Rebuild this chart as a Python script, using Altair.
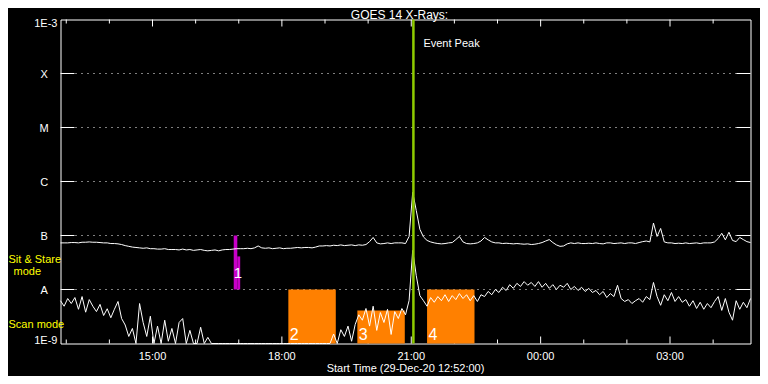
import altair as alt
import pandas as pd

FONT = "Liberation Sans"

# GOES 14 long channel (1-8 A), 5-minute samples from 12:52 UT
long_flux = [
    7.3e-8, 7.3e-8, 7.3e-8, 7.4e-8, 7.4e-8, 7.3e-8, 7.5e-8, 7.5e-8, 7.6e-8, 7.5e-8,
    7.5e-8, 7.4e-8, 7.3e-8, 7.3e-8, 7.1e-8, 7.1e-8, 7.0e-8, 6.8e-8, 6.5e-8, 6.3e-8,
    6.1e-8, 6.0e-8, 5.9e-8, 5.8e-8, 5.9e-8, 5.7e-8, 5.7e-8, 5.6e-8, 5.6e-8, 5.7e-8,
    5.5e-8, 5.5e-8, 5.5e-8, 5.4e-8, 5.6e-8, 5.4e-8, 5.5e-8, 5.3e-8, 5.4e-8, 5.5e-8,
    5.3e-8, 5.2e-8, 5.3e-8, 5.4e-8, 5.2e-8, 5.4e-8, 5.5e-8, 5.5e-8, 5.6e-8, 5.7e-8,
    5.7e-8, 5.7e-8, 5.8e-8, 5.7e-8, 5.9e-8, 6.4e-8, 5.9e-8, 5.8e-8, 5.9e-8, 5.7e-8,
    5.8e-8, 5.9e-8, 5.7e-8, 5.8e-8, 5.8e-8, 5.9e-8, 6.0e-8, 5.9e-8, 6.0e-8, 6.0e-8,
    5.9e-8, 6.1e-8, 6.4e-8, 6.4e-8, 6.5e-8, 6.4e-8, 6.6e-8, 6.5e-8, 6.7e-8, 6.5e-8,
    6.6e-8, 6.7e-8, 6.5e-8, 6.7e-8, 6.6e-8, 6.8e-8, 7.7e-8, 9.2e-8, 7.3e-8, 7.0e-8,
    7.1e-8, 7.3e-8, 7.1e-8, 7.3e-8, 7.3e-8, 7.3e-8, 7.1e-8, 9.6e-8, 6.3e-7, 2.9e-7,
    1.3e-7, 9.4e-8, 8.1e-8, 7.6e-8, 7.3e-8, 7.1e-8, 7.0e-8, 7.1e-8, 7.3e-8, 7.4e-8,
    8.4e-8, 9.6e-8, 7.6e-8, 7.1e-8, 7.0e-8, 7.1e-8, 7.3e-8, 7.9e-8, 9.2e-8, 8.3e-8,
    7.6e-8, 7.3e-8, 7.3e-8, 7.1e-8, 7.2e-8, 7.1e-8, 7.0e-8, 7.1e-8, 7.0e-8, 6.9e-8,
    7.0e-8, 6.8e-8, 6.9e-8, 7.1e-8, 7.4e-8, 7.9e-8, 8.4e-8, 7.4e-8, 6.7e-8, 6.3e-8,
    6.4e-8, 7.0e-8, 7.3e-8, 7.1e-8, 7.3e-8, 7.1e-8, 7.1e-8, 7.2e-8, 7.1e-8, 7.3e-8,
    7.1e-8, 7.0e-8, 7.3e-8, 7.3e-8, 7.1e-8, 7.2e-8, 7.3e-8, 7.1e-8, 7.3e-8, 7.3e-8,
    7.1e-8, 7.4e-8, 7.7e-8, 7.9e-8, 7.6e-8, 1.7e-7, 9.6e-8, 1.35e-7, 7.6e-8, 7.3e-8,
    7.3e-8, 7.1e-8, 7.2e-8, 7.1e-8, 7.3e-8, 7.1e-8, 7.2e-8, 7.3e-8, 7.1e-8, 7.3e-8,
    7.3e-8, 7.3e-8, 7.6e-8, 8.8e-8, 1.1e-7, 8.3e-8, 1.15e-7, 8.1e-8, 7.7e-8, 9.2e-8,
    8.4e-8, 7.7e-8, 7.4e-8,
]

# GOES 14 short channel (0.5-4 A), same samples
short_flux = [
    6.2e-9, 4.9e-9, 6.8e-9, 5.5e-9, 7.1e-9, 4.3e-9, 7.4e-9, 3.8e-9, 6.5e-9, 4.9e-9,
    3.9e-9, 5.3e-9, 3.3e-9, 4.4e-9, 3.0e-9, 4.3e-9, 6.0e-9, 2.9e-9, 2.2e-9, 1.35e-9,
    1.9e-9, 1e-9, 5.5e-9, 2.45e-9, 1.35e-9, 3.2e-9, 1e-9, 2.1e-9, 1e-9, 2.7e-9,
    1.1e-9, 1.9e-9, 1e-9, 2.45e-9, 2.9e-9, 1e-9, 1.75e-9, 1e-9, 1e-9, 2.0e-9,
    1e-9, 1.3e-9, 1e-9, 1e-9, 1e-9, 1e-9, 1e-9, 1e-9, 1e-9, 1e-9,
    1e-9, 1e-9, 1e-9, 1e-9, 1e-9, 1e-9, 1e-9, 1e-9, 1e-9, 1e-9,
    1e-9, 1e-9, 1e-9, 1e-9, 1e-9, 1e-9, 1e-9, 1e-9, 1e-9, 1e-9,
    1e-9, 1e-9, 1e-9, 1e-9, 1e-9, 1e-9, 1.5e-9, 1e-9, 1.8e-9, 1.35e-9,
    2.1e-9, 1.1e-9, 2.25e-9, 3.4e-9, 2.7e-9, 4.45e-9, 2.1e-9, 4.9e-9, 1.75e-9, 3.75e-9,
    2.45e-9, 4.3e-9, 1.47e-9, 3.9e-9, 2.9e-9, 4.45e-9, 3.4e-9, 6.25e-9, 5.3e-8, 1.8e-8,
    7.7e-9, 6.2e-9, 4.9e-9, 7.1e-9, 5.8e-9, 7.4e-9, 6.2e-9, 8.0e-9, 6.0e-9, 7.7e-9,
    6.5e-9, 8.4e-9, 6.8e-9, 8.0e-9, 6.2e-9, 7.7e-9, 6.0e-9, 8.0e-9, 7.4e-9, 9.2e-9,
    8.0e-9, 1.0e-8, 8.8e-9, 1.1e-8, 9.6e-9, 1.23e-8, 1.05e-8, 1.3e-8, 1.14e-8, 1.4e-8,
    1.2e-8, 1.35e-8, 1.14e-8, 1.4e-8, 1.1e-8, 1.3e-8, 1.05e-8, 1.23e-8, 1.0e-8, 1.2e-8,
    1.1e-8, 1.3e-8, 1.0e-8, 1.14e-8, 9.6e-9, 1.1e-8, 9.2e-9, 1.05e-8, 8.8e-9, 9.6e-9,
    8.0e-9, 9.2e-9, 7.1e-9, 8.4e-9, 7.4e-9, 1.2e-8, 6.8e-9, 6.0e-9, 6.5e-9, 5.5e-9,
    6.2e-9, 6.8e-9, 5.8e-9, 7.4e-9, 6.5e-9, 1.35e-8, 7.4e-9, 5.1e-9, 8.0e-9, 6.2e-9,
    8.8e-9, 6.0e-9, 7.4e-9, 5.8e-9, 6.5e-9, 4.9e-9, 6.2e-9, 4.45e-9, 5.8e-9, 4.3e-9,
    5.5e-9, 4.6e-9, 6.0e-9, 7.4e-9, 4.1e-9, 6.8e-9, 3.8e-9, 2.7e-9, 6.2e-9, 4.3e-9,
    5.8e-9, 4.6e-9, 6.8e-9,
]

# Flare-class levels and labels
level_values = [1e-8, 1e-7, 1e-6, 1e-5, 1e-4]
level_labels = ["A", "B", "C", "M", "X"]
end_values = [1e-9, 1e-3]
end_labels = ["1E-9", "1E-3"]

# Hour ticks
major_ticks = ["2020-12-29T15:00:00Z", "2020-12-29T18:00:00Z", "2020-12-29T21:00:00Z",
               "2020-12-30T00:00:00Z", "2020-12-30T03:00:00Z"]
major_labels = ["15:00", "18:00", "21:00", "00:00", "03:00"]
minor_ticks = ["2020-12-29T13:00:00Z", "2020-12-29T14:00:00Z", "2020-12-29T16:00:00Z",
               "2020-12-29T17:00:00Z", "2020-12-29T19:00:00Z", "2020-12-29T20:00:00Z",
               "2020-12-29T22:00:00Z", "2020-12-29T23:00:00Z", "2020-12-30T01:00:00Z",
               "2020-12-30T02:00:00Z", "2020-12-30T04:00:00Z"]

# Scan-mode observation boxes
scan_start = ["2020-12-29T18:09:00Z", "2020-12-29T19:45:00Z", "2020-12-29T21:22:00Z"]
scan_end = ["2020-12-29T19:15:00Z", "2020-12-29T20:51:00Z", "2020-12-29T22:28:00Z"]
scan_lo = [1e-9, 1e-9, 1e-9]
scan_hi = [1e-8, 4.1e-9, 1e-8]
scan_labels = ["2", "3", "4"]

# Sit & stare observation
sit_start = ["2020-12-29T16:53:00Z", "2020-12-29T16:58:00Z"]
sit_end = ["2020-12-29T16:58:00Z", "2020-12-29T17:02:00Z"]
sit_lo = [1e-8, 1e-8]
sit_hi = [1e-7, 4.1e-8]
sit_label_time = ["2020-12-29T16:59:00Z"]
sit_label_flux = [1.6e-8]
sit_label = ["1"]

event_peak = ["2020-12-29T21:03:00Z"]

times = pd.date_range("2020-12-29 12:52", periods=len(long_flux), freq="5min").strftime("%Y-%m-%dT%H:%M:%SZ")
lines_df = pd.concat([
    pd.DataFrame({"t": times, "f": long_flux, "ch": "long"}),
    pd.DataFrame({"t": times, "f": short_flux, "ch": "short"}),
])

xscale = alt.Scale(type="utc", nice=False, domain=[
    alt.DateTime(year=2020, month=12, date=29, hours=12, minutes=52, utc=True),
    alt.DateTime(year=2020, month=12, date=30, hours=4, minutes=52, utc=True)])
yscale = alt.Scale(type="log", domain=[1e-9, 1e-3], nice=False, clamp=True)

W, H = 690, 324


def X(f):
    return alt.X(f + ":T", scale=xscale, axis=None)


def Y(f):
    return alt.Y(f + ":Q", scale=yscale, axis=None)


levels_df = pd.DataFrame({"v": level_values, "label": level_labels})
ends_df = pd.DataFrame({"v": end_values, "label": end_labels})
major_df = pd.DataFrame({"t": major_ticks, "label": major_labels})
minor_df = pd.DataFrame({"t": minor_ticks})
scan_df = pd.DataFrame({"s": scan_start, "e": scan_end, "lo": scan_lo, "hi": scan_hi, "label": scan_labels})
sit_df = pd.DataFrame({"s": sit_start, "e": sit_end, "lo": sit_lo, "hi": sit_hi})
sit_lab_df = pd.DataFrame({"t": sit_label_time, "f": sit_label_flux, "label": sit_label})
event_df = pd.DataFrame({"t": event_peak, "label": ["Event Peak"]})

grid = alt.Chart(levels_df).mark_rule(color="white", strokeDash=[1, 5], strokeWidth=1).encode(
    y=Y("v"), x=alt.value(15), x2=alt.value(W - 14))
stub_l = alt.Chart(levels_df).mark_rule(color="white", strokeWidth=1).encode(
    y=Y("v"), x=alt.value(0), x2=alt.value(14))
stub_r = alt.Chart(levels_df).mark_rule(color="white", strokeWidth=1).encode(
    y=Y("v"), x=alt.value(W - 14), x2=alt.value(W))

tick_layers = []
for df_, ln in [(major_df, 7), (minor_df, 4)]:
    tick_layers.append(alt.Chart(df_).mark_rule(color="white", strokeWidth=1).encode(
        x=X("t"), y=alt.value(0), y2=alt.value(ln)))
    tick_layers.append(alt.Chart(df_).mark_rule(color="white", strokeWidth=1).encode(
        x=X("t"), y=alt.value(H - ln), y2=alt.value(H)))

xlabels = alt.Chart(major_df).mark_text(color="white", font=FONT, fontSize=11, align="center",
                                        baseline="alphabetic").encode(
    x=X("t"), y=alt.value(H + 16.5), text="label")

ylab_letters = alt.Chart(levels_df).mark_text(color="white", font=FONT, fontSize=11, align="center",
                                              baseline="alphabetic", dy=4.5).encode(
    y=Y("v"), x=alt.value(-16.3), text="label")
ylab_top = alt.Chart(ends_df[ends_df.label == "1E-3"]).mark_text(
    color="white", font=FONT, fontSize=11, align="right", baseline="alphabetic", dy=7.6).encode(
    y=Y("v"), x=alt.value(-3), text="label")
ylab_bot = alt.Chart(ends_df[ends_df.label == "1E-9"]).mark_text(
    color="white", font=FONT, fontSize=11, align="right", baseline="alphabetic", dy=0).encode(
    y=Y("v"), x=alt.value(-3), text="label")

scan_boxes = alt.Chart(scan_df).mark_rect(color="#ff8000").encode(
    x=X("s"), x2="e", y=Y("lo"), y2="hi")
scan_text = alt.Chart(scan_df).mark_text(color="white", font=FONT, fontSize=16, align="left",
                                         baseline="alphabetic", dx=1.5, dy=-4).encode(
    x=X("s"), y=Y("lo"), text="label")

sit_boxes = alt.Chart(sit_df).mark_rect(color="#c800c8").encode(
    x=X("s"), x2="e", y=Y("lo"), y2="hi")
sit_text = alt.Chart(sit_lab_df).mark_text(color="white", font=FONT, fontSize=15, align="center",
                                           baseline="alphabetic").encode(
    x=X("t"), y=Y("f"), text="label")

curves = alt.Chart(lines_df).mark_line(color="white", strokeWidth=1).encode(
    x=X("t"), y=Y("f"), detail="ch:N")

peak_rule = alt.Chart(event_df).mark_rule(color="#8fcc00", strokeWidth=2.5).encode(
    x=X("t"), y=alt.value(0), y2=alt.value(H))
peak_text = alt.Chart(event_df).mark_text(color="white", font=FONT, fontSize=11, align="left",
                                          baseline="alphabetic", dx=10).encode(
    x=X("t"), y=alt.value(27.7), text="label")


def note(txt, x, y, color="white", size=11, align="left"):
    return alt.Chart(pd.DataFrame({"label": [txt]})).mark_text(
        color=color, font=FONT, fontSize=size, align=align, baseline="alphabetic").encode(
        x=alt.value(x), y=alt.value(y), text="label")


title = note("GOES 14 X-Rays:", 339, -1.0, size=12, align="center")
xtitle = note("Start Time (29-Dec-20 12:52:00)", 345, H + 28.5, align="center")
sit1 = note("Sit & Stare", -52, 243.7, color="#ffff00")
sit2 = note("mode", -47, 255, color="#ffff00")
scan = note("Scan mode", -52, 308.7, color="#ffff00")

chart = alt.layer(
    grid, stub_l, stub_r, *tick_layers,
    scan_boxes, scan_text, sit_boxes, sit_text,
    curves, peak_rule, peak_text,
    xlabels, ylab_letters, ylab_top, ylab_bot,
    title, xtitle, sit1, sit2, scan,
).properties(
    width=W, height=H,
    autosize=alt.AutoSizeParams(type="none"),
    padding={"left": 52.5, "top": 11.5, "right": 9.5, "bottom": 32.5},
).configure(background="black").configure_view(stroke="white", strokeWidth=1)

chart.save("out.html", embed_options={"renderer": "svg", "actions": False})
